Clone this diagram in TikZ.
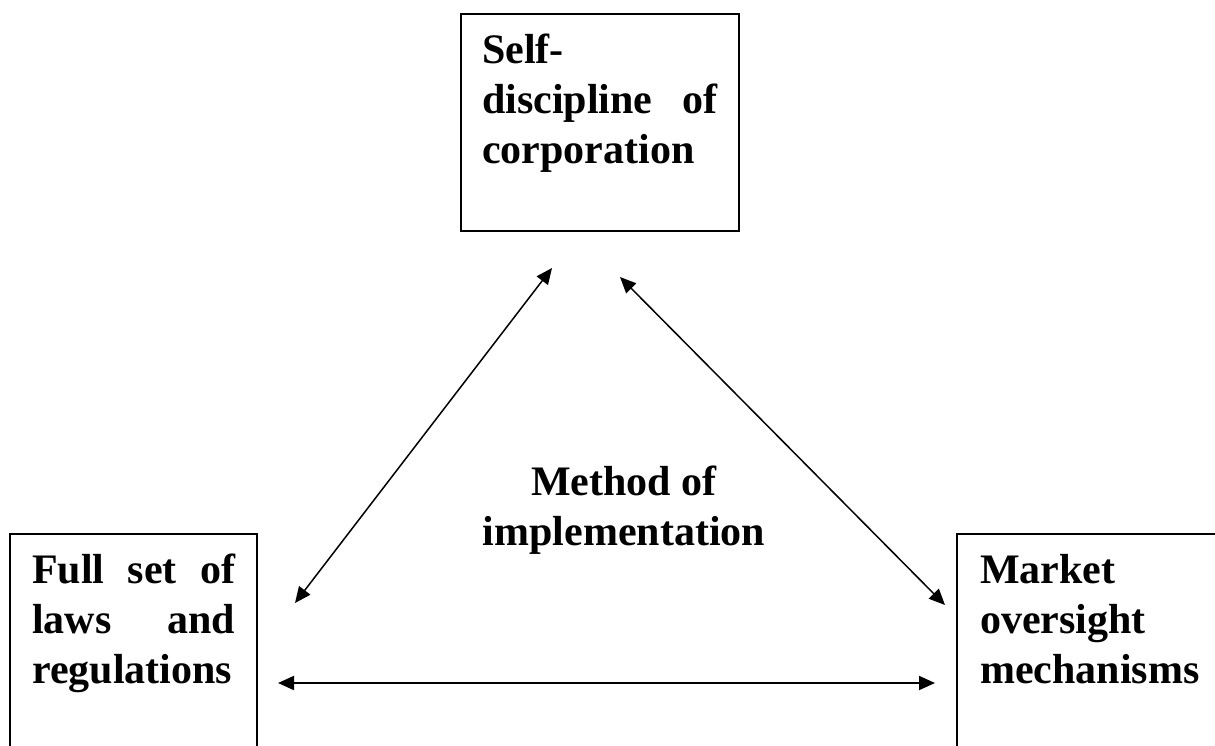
\documentclass[tikz,border=0pt]{standalone}
\usepackage{fontspec}
\setmainfont{Liberation Serif}
\usetikzlibrary{arrows.meta}
\newcommand{\firstln}{\rule{0pt}{29pt}}
\begin{document}
\begin{tikzpicture}[x=1pt,y=-1pt,
  frame/.style={draw, line width=1.8pt, inner sep=0pt, anchor=north west},
  boxtext/.style={font=\bfseries\fontsize{42}{50}\selectfont, inner sep=0pt, anchor=north west, align=left},
  midtext/.style={font=\bfseries\fontsize{42}{50}\selectfont, inner sep=0pt, anchor=north, align=center},
  link/.style={line width=1.5pt, {Triangle[length=16pt,width=14pt]}-{Triangle[length=16pt,width=14pt]}}
]
\useasboundingbox (0,0) rectangle (1215,745);
\clip (0,0) rectangle (1215,745);

% boxes
\node[frame, minimum width=278pt, minimum height=217pt] (topbox) at (460,13) {};
\node[frame, minimum width=247pt, minimum height=300pt] (leftbox) at (9,533) {};
\node[frame, minimum width=300pt, minimum height=300pt] (rightbox) at (956,533) {};

% texts
\node[boxtext, text width=235pt] (toptext) at (482,34)
  {\firstln Self-\\discipline\hfill of\\corporation};
\node[boxtext, text width=203pt] (lefttext) at (32,554)
  {\firstln Full\hfill set\hfill of\\laws\hfill and\\regulations};
\node[boxtext, text width=230pt] (righttext) at (980,554)
  {\firstln Market\\oversight\\mechanisms};
\node[midtext] (method) at (624,466)
  {\firstln Method of\\implementation};

% arrow end points
\coordinate (aL1) at (295,603);
\coordinate (aL2) at (552,268);
\coordinate (aR1) at (620,277);
\coordinate (aR2) at (945,605);
\coordinate (hL) at (278,683);
\coordinate (hR) at (935,683);

\draw[link] (aL1) -- (aL2);
\draw[link] (aR1) -- (aR2);
\draw[link, line width=2pt] (hL) -- (hR);
\end{tikzpicture}
\end{document}
